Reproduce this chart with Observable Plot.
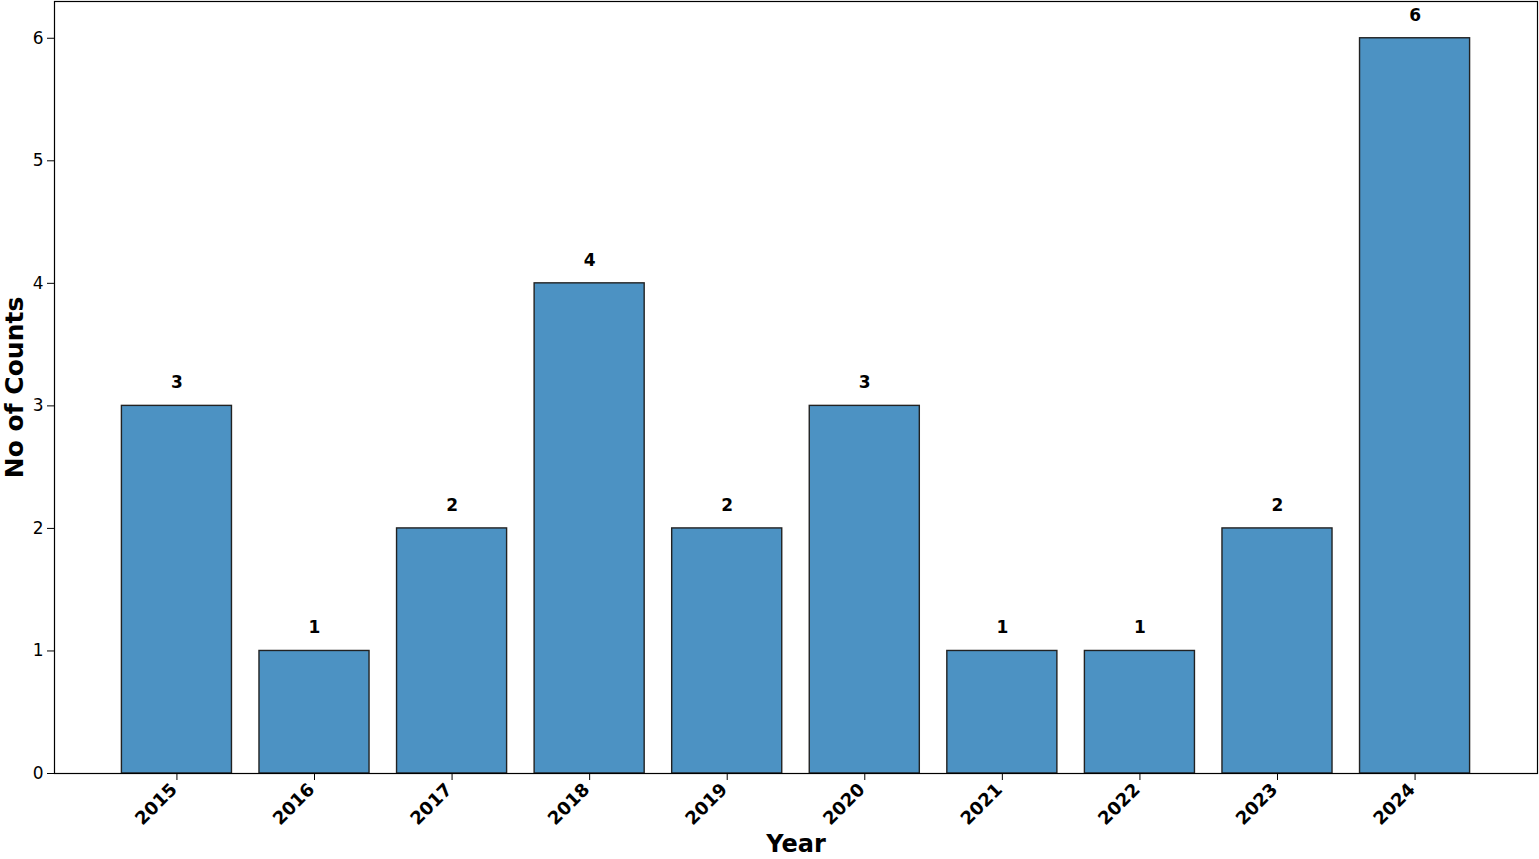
<!DOCTYPE html>
<html>
<head>
<meta charset="utf-8">
<script src="https://cdn.jsdelivr.net/npm/d3@7"></script>
<script src="https://cdn.jsdelivr.net/npm/@observablehq/plot@0.6"></script>
<style>
  html, body { margin: 0; padding: 0; background: white; }
</style>
</head>
<body>
<div id="chart"></div>
<script>
const years = ["2015", "2016", "2017", "2018", "2019", "2020", "2021", "2022", "2023", "2024"];
const counts = [3, 1, 2, 4, 2, 3, 1, 1, 2, 6];
const yTicks = [0, 1, 2, 3, 4, 5, 6];
const xTitle = "Year";
const yTitle = "No of Counts";

const data = years.map((y, i) => ({year: y, count: counts[i]}));

const chart = Plot.plot({
  width: 1539,
  height: 859,
  marginLeft: 54,
  marginRight: 2,
  marginTop: 1,
  marginBottom: 86,
  style: {fontFamily: "'DejaVu Sans', sans-serif", background: "white", color: "black"},
  x: {type: "band", domain: years, paddingInner: 0.2, paddingOuter: 0.49, round: false, label: null},
  y: {domain: [0, 6.3], label: null},
  marks: [
    Plot.barY(data, {x: "year", y: "count", fill: "#4c92c3", stroke: "#222", strokeWidth: 1.4}),
    Plot.text(data, {x: "year", y: "count", text: d => String(d.count), dy: -23, fontWeight: "bold", fontSize: 17}),
    Plot.frame({stroke: "black", strokeWidth: 1.2}),
    Plot.axisY({ticks: yTicks, tickSize: 7, tickPadding: 4, fontSize: 17, label: null, tickFormat: d => String(d)}),
    Plot.axisX({tickSize: 7, text: null, label: null}),
    Plot.axisX({tickSize: 0, tickPadding: 10, tickRotate: -45, dx: -3, dy: 3, fontWeight: "bold", fontSize: 18, label: null}),
    Plot.text([yTitle], {frameAnchor: "left", textAnchor: "middle", dx: -40, rotate: -90, fontSize: 25, fontWeight: "bold"}),
    Plot.text([xTitle], {frameAnchor: "bottom", dy: 78, fontSize: 24, fontWeight: "bold"})
  ]
});
document.getElementById("chart").appendChild(chart);
</script>
</body>
</html>
